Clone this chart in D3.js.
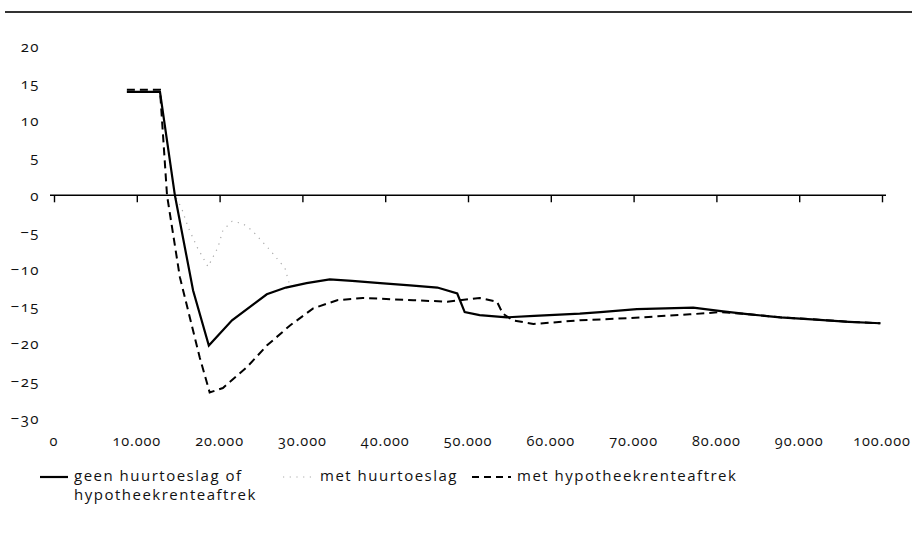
<!DOCTYPE html>
<html>
<head>
<meta charset="utf-8">
<script src="https://cdn.jsdelivr.net/npm/d3@7"></script>
<style>
  body { margin: 0; background: #fff; }
  svg text { font-family: "Open Sans", "Noto Sans", sans-serif; fill: #111; font-variant-numeric: oldstyle-nums; letter-spacing: 1.5px; }
  svg text.xl { letter-spacing: 0.9px; }
</style>
</head>
<body>
<svg id="chart" width="912" height="534"></svg>
<script>
// Data (income in euros, value in %)
const xTicks = [0, 10000, 20000, 30000, 40000, 50000, 60000, 70000, 80000, 90000, 100000];
const xTickLabels = ["0", "10.000", "20.000", "30.000", "40.000", "50.000", "60.000", "70.000", "80.000", "90.000", "100.000"];
const yTicks = [20, 15, 10, 5, 0, -5, -10, -15, -20, -25, -30];
const yTickLabels = ["20", "15", "10", "5", "0", "−5", "−10", "−15", "−20", "−25", "−30"];

const seriesNames = ["geen huurtoeslag of", "hypotheekrenteaftrek", "met huurtoeslag", "met hypotheekrenteaftrek"];

const geenX = [8800, 12800, 14600, 16800, 18700, 21500, 25700, 28000, 30500, 33300, 36000, 39400, 43000, 46300, 48700, 49600, 51400, 54700, 58000, 63500, 66000, 70400, 77200, 80800, 84000, 87700, 92000, 96000, 99800];
const geenY = [13.9, 13.9, 0, -12.8, -20.2, -16.8, -13.3, -12.4, -11.8, -11.3, -11.5, -11.8, -12.1, -12.4, -13.2, -15.7, -16.1, -16.4, -16.2, -15.9, -15.7, -15.3, -15.1, -15.6, -16.0, -16.4, -16.7, -17.0, -17.2];

const huurX = [8800, 12800, 14600, 15400, 16200, 17300, 18600, 19800, 20400, 21500, 22800, 23900, 26200, 27300, 27900, 28500];
const huurY = [13.9, 13.9, 0, -1.7, -4.3, -7.0, -9.6, -7.0, -4.7, -3.5, -3.8, -4.7, -7.5, -9.0, -9.8, -12.2];

const hypoX = [8800, 12800, 13650, 15200, 17600, 18800, 20400, 23300, 25700, 28500, 31300, 34200, 37300, 43400, 47500, 51400, 53500, 54200, 55400, 57900, 63500, 69600, 76800, 80500, 84000, 87700, 92000, 96000, 99800];
const hypoY = [14.2, 14.2, 0, -11, -21.8, -26.5, -25.9, -23.1, -20.2, -17.5, -15.2, -14.1, -13.8, -14.1, -14.3, -13.8, -14.3, -15.9, -16.8, -17.3, -16.8, -16.5, -16.0, -15.7, -16.0, -16.4, -16.7, -17.0, -17.2];

const svg = d3.select("#chart");

const x = d3.scaleLinear().domain([0, 100000]).range([54, 882]);
const y = d3.scaleLinear().domain([-30, 20]).range([418.5, 46.5]);

// top rule
svg.append("line").attr("x1", 5).attr("x2", 912).attr("y1", 12).attr("y2", 12)
  .attr("stroke", "#333").attr("stroke-width", 2);

// y tick labels
svg.append("g").selectAll("text").data(yTicks).join("text")
  .attr("x", 40).attr("y", d => y(d)).attr("dy", "0.35em")
  .attr("text-anchor", "end").attr("font-size", 15)
  .text((d, i) => yTickLabels[i]);

// x axis at zero
const xAxis = d3.axisBottom(x).tickValues(xTicks).tickSize(7).tickFormat("");
const gx = svg.append("g").attr("transform", `translate(0,${y(0)})`).call(xAxis);
gx.select(".domain").attr("d", `M50,0H886`).attr("stroke", "#000").attr("stroke-width", 1.6);
gx.selectAll(".tick line").attr("stroke", "#000").attr("stroke-width", 1.4);

// x tick labels at bottom
svg.append("g").selectAll("text").data(xTicks).join("text")
  .attr("class", "xl")
  .attr("x", d => x(d)).attr("y", 446)
  .attr("text-anchor", "middle").attr("font-size", 14.5)
  .text((d, i) => xTickLabels[i]);

const line = d3.line().x(d => x(d[0])).y(d => y(d[1]));

const huurData = d3.zip(huurX, huurY);
const geenData = d3.zip(geenX, geenY);
const hypoData = d3.zip(hypoX, hypoY);

svg.append("path").datum(huurData).attr("d", line)
  .attr("fill", "none").attr("stroke", "#aaa").attr("stroke-width", 1.2)
  .attr("stroke-dasharray", "1.2,5.5");

svg.append("path").datum(hypoData).attr("d", line)
  .attr("fill", "none").attr("stroke", "#000").attr("stroke-width", 2)
  .attr("stroke-dasharray", "8,5");

svg.append("path").datum(geenData).attr("d", line)
  .attr("fill", "none").attr("stroke", "#000").attr("stroke-width", 2.2);

// legend
const lg = svg.append("g");
lg.append("line").attr("x1", 40).attr("x2", 68).attr("y1", 477).attr("y2", 477)
  .attr("stroke", "#000").attr("stroke-width", 2.2);
lg.append("text").attr("x", 74).attr("y", 481).attr("font-size", 15).text(seriesNames[0]);
lg.append("text").attr("x", 74).attr("y", 500).attr("font-size", 15).text(seriesNames[1]);

lg.append("line").attr("x1", 283).attr("x2", 312).attr("y1", 477).attr("y2", 477)
  .attr("stroke", "#aaa").attr("stroke-width", 1.2).attr("stroke-dasharray", "1.2,5.5");
lg.append("text").attr("x", 320).attr("y", 481).attr("font-size", 15).text(seriesNames[2]);

lg.append("line").attr("x1", 472).attr("x2", 511).attr("y1", 477).attr("y2", 477)
  .attr("stroke", "#000").attr("stroke-width", 2).attr("stroke-dasharray", "7,5");
lg.append("text").attr("x", 517).attr("y", 481).attr("font-size", 15).text(seriesNames[3]);
</script>
</body>
</html>
